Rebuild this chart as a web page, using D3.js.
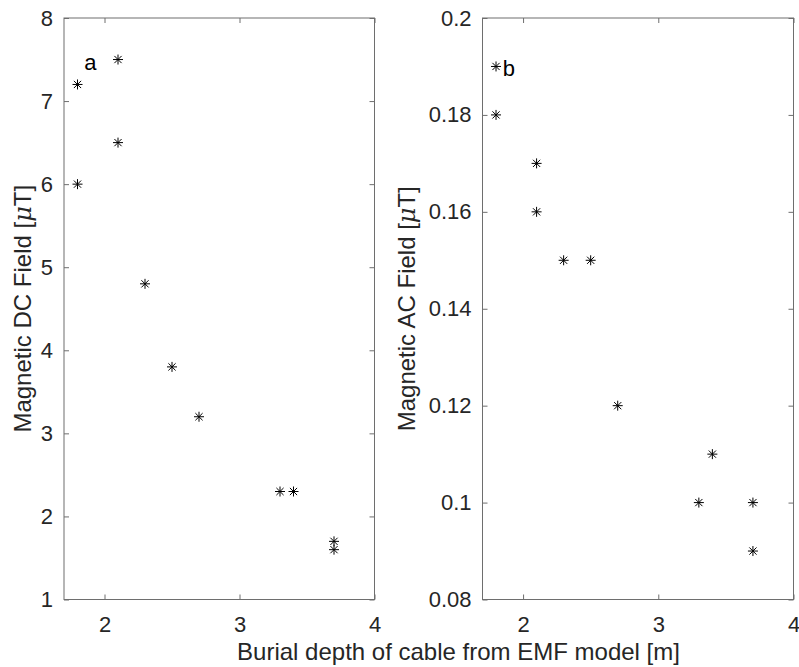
<!DOCTYPE html>
<html><head><meta charset="utf-8">
<script src="https://cdn.jsdelivr.net/npm/d3@7"></script>
<style>
html,body{margin:0;padding:0;background:#fff;}
text{font-family:"Liberation Sans",Arial,Helvetica,sans-serif;fill:#262626;}
</style></head>
<body>
<svg id="chart" width="799" height="667"></svg>
<script>
// ---- data ----
const depthA = [1.8, 1.8, 2.1, 2.1, 2.3, 2.5, 2.7, 3.3, 3.4, 3.7, 3.7];
const dcField = [7.2, 6.0, 7.5, 6.5, 4.8, 3.8, 3.2, 2.3, 2.3, 1.7, 1.6];
const depthB = [1.8, 1.8, 2.1, 2.1, 2.3, 2.5, 2.7, 3.3, 3.4, 3.7, 3.7];
const acField = [0.19, 0.18, 0.17, 0.16, 0.15, 0.15, 0.12, 0.10, 0.11, 0.10, 0.09];
const xTickVals = [2, 3, 4];
const xTickLabels = ["2", "3", "4"];
const yTickValsA = [1, 2, 3, 4, 5, 6, 7, 8];
const yTickLabelsA = ["1", "2", "3", "4", "5", "6", "7", "8"];
const yTickValsB = [0.08, 0.10, 0.12, 0.14, 0.16, 0.18, 0.20];
const yTickLabelsB = ["0.08", "0.1", "0.12", "0.14", "0.16", "0.18", "0.2"];
const xDomain = [1.7, 4];
const yDomainA = [1, 8];
const yDomainB = [0.08, 0.2];

const svg = d3.select("#chart");
const FS = 22;   // tick labels
const LFS = 24;  // axis labels

function panel(opt) {
  const x = d3.scaleLinear().domain(xDomain).range([opt.left, opt.right]);
  const y = d3.scaleLinear().domain(opt.yDomain).range([opt.bottom, opt.top]);
  const g = svg.append("g");
  const axisColor = "#6e6e6e";
  const tl = 5;

  const bx = d3.axisBottom(x).tickValues(xTickVals)
    .tickFormat((d, i) => xTickLabels[i]).tickSizeInner(-tl).tickSizeOuter(0).tickPadding(18);
  const gb = g.append("g").attr("transform", `translate(0,${opt.bottom})`).call(bx);
  const tx = d3.axisTop(x).tickValues(xTickVals).tickFormat("").tickSizeInner(-tl).tickSizeOuter(0);
  const gt = g.append("g").attr("transform", `translate(0,${opt.top})`).call(tx);
  const ly = d3.axisLeft(y).tickValues(opt.yTicks)
    .tickFormat((d, i) => opt.yLabels[i]).tickSizeInner(-tl).tickSizeOuter(0).tickPadding(11);
  const gl = g.append("g").attr("transform", `translate(${opt.left},0)`).call(ly);
  const ry = d3.axisRight(y).tickValues(opt.yTicks).tickFormat("").tickSizeInner(-tl).tickSizeOuter(0);
  const gr = g.append("g").attr("transform", `translate(${opt.right},0)`).call(ry);

  [gb, gt, gl, gr].forEach(a => {
    a.select(".domain").remove();
    a.selectAll(".tick line").attr("stroke", axisColor).attr("stroke-width", 1);
    a.selectAll(".tick text").attr("font-size", FS).attr("fill", "#262626")
      .attr("font-family", '"Liberation Sans",Arial,Helvetica,sans-serif');
  });
  gb.selectAll(".tick text").attr("dy", "0.66em");

  g.append("rect").attr("x", opt.left).attr("y", opt.top)
    .attr("width", opt.right - opt.left).attr("height", opt.bottom - opt.top)
    .attr("fill", "none").attr("stroke", axisColor).attr("stroke-width", 1);

  const r = 5, d2 = r * 0.72;
  const star = `M${-r},0L${r},0M0,${-r}L0,${r}M${-d2},${-d2}L${d2},${d2}M${-d2},${d2}L${d2},${-d2}`;
  g.selectAll("path.pt").data(opt.xs.map((v, i) => [v, opt.ys[i]])).enter()
    .append("path").attr("class", "pt")
    .attr("transform", d => `translate(${x(d[0])},${y(d[1])})`)
    .attr("d", star).attr("stroke", "#000").attr("stroke-width", 1).attr("fill", "none");

  g.append("text")
    .attr("transform", `translate(${opt.ylabX},${(opt.top + opt.bottom) / 2}) rotate(-90)`)
    .attr("text-anchor", "middle").attr("font-size", LFS)
    .html(opt.ylabel);

  g.append("text").attr("x", x(opt.letter[0])).attr("y", y(opt.letter[1]))
    .attr("font-size", FS).style("fill", "#000").text(opt.letter[2]);
  return {x, y};
}

panel({left: 64, right: 374.5, top: 18, bottom: 599.5, yDomain: yDomainA,
  yTicks: yTickValsA, yLabels: yTickLabelsA,
  xs: depthA, ys: dcField, ylabX: 31,
  ylabel: 'Magnetic DC Field [<tspan font-style="italic" font-family="DejaVu Serif, serif">μ</tspan>T]',
  letter: [1.85, 7.38, "a"]});

panel({left: 482.5, right: 793.5, top: 18, bottom: 599.5, yDomain: yDomainB,
  yTicks: yTickValsB, yLabels: yTickLabelsB,
  xs: depthB, ys: acField, ylabX: 415,
  ylabel: 'Magnetic AC Field [<tspan font-style="italic" font-family="DejaVu Serif, serif">μ</tspan>T]',
  letter: [1.85, 0.188, "b"]});

svg.append("text").attr("x", 458.5).attr("y", 660).attr("text-anchor", "middle")
  .attr("font-size", LFS).text("Burial depth of cable from EMF model [m]");
</script>
</body></html>
